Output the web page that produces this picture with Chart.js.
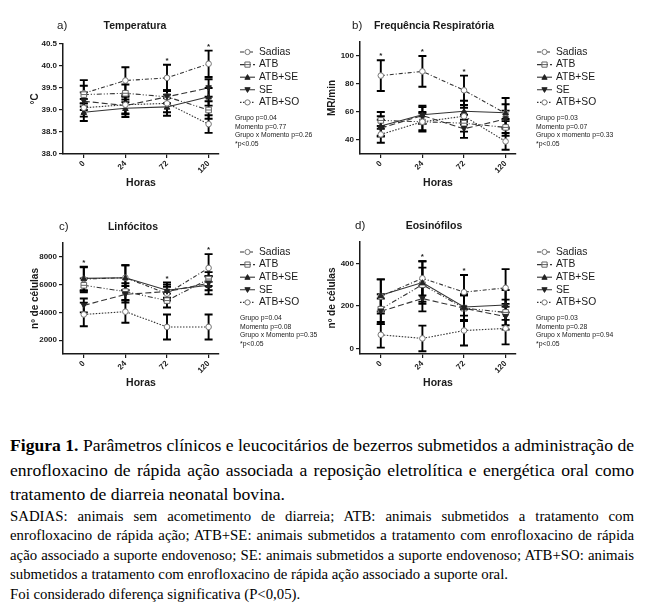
<!DOCTYPE html>
<html><head><meta charset="utf-8">
<script src="https://cdn.jsdelivr.net/npm/chart.js@4.4.1/dist/chart.umd.min.js"></script>
<style>
html,body{margin:0;padding:0;background:#fff;}
body{width:650px;height:611px;position:relative;overflow:hidden;}
canvas{position:absolute;}
#cap1{position:absolute;left:10px;top:433px;width:624px;font-family:'Liberation Serif','Times New Roman',serif;font-size:17.6px;line-height:24.5px;color:#000;}
#cap2{position:absolute;left:10px;top:507px;width:624px;font-family:'Liberation Serif','Times New Roman',serif;font-size:14.8px;line-height:19.4px;color:#000;}
.j{text-align:justify;text-align-last:justify;white-space:nowrap;}
.l{text-align:left;white-space:nowrap;}
</style></head><body>
<canvas id="pa" width="325" height="200" style="left:0;top:0"></canvas>
<canvas id="pb" width="325" height="200" style="left:325px;top:0"></canvas>
<canvas id="pc" width="325" height="200" style="left:0;top:200px"></canvas>
<canvas id="pd" width="325" height="200" style="left:325px;top:200px"></canvas>
<div id="cap1">
<div class="j"><b>Figura 1.</b> Parâmetros clínicos e leucocitários de bezerros submetidos a administração de</div>
<div class="j">enrofloxacino de rápida ação associada a reposição eletrolítica e energética oral como</div>
<div class="l">tratamento de diarreia neonatal bovina.</div>
</div>
<div id="cap2">
<div class="j">SADIAS: animais sem acometimento de diarreia; ATB: animais submetidos a tratamento com</div>
<div class="j">enrofloxacino de rápida ação; ATB+SE: animais submetidos a tratamento com enrofloxacino de rápida</div>
<div class="j">ação associado a suporte endovenoso; SE: animais submetidos a suporte endovenoso; ATB+SO: animais</div>
<div class="l">submetidos a tratamento com enrofloxacino de rápida ação associado a suporte oral.</div>
<div class="l">Foi considerado diferença significativa (P&lt;0,05).</div>
</div>
<script>
// ---- data ----
const hours = ['0', '24', '72', '120'];
const groups = ['Sadias', 'ATB', 'ATB+SE', 'SE', 'ATB+SO'];

const tempMeans = [
  [39.38, 39.67, 39.73, 40.05],
  [39.35, 39.38, 39.30, 39.00],
  [38.95, 39.04, 39.07, 39.30],
  [39.20, 39.10, 39.30, 39.50],
  [39.05, 39.12, 39.15, 38.68]
];
const tempSD = [
  [0.30, 0.30, 0.30, 0.30],
  [0.20, 0.20, 0.15, 0.20],
  [0.20, 0.20, 0.20, 0.20],
  [0.20, 0.20, 0.15, 0.20],
  [0.20, 0.20, 0.20, 0.20]
];
const tempTicks = [38.0, 38.5, 39.0, 39.5, 40.0, 40.5];
const tempSig = [2, 3];
const tempStats = ['Grupo p=0.04', 'Momento p=0.77', 'Grupo x Momento p=0.26', '*p<0.05'];

const respMeans = [
  [86, 89, 75.5, 59],
  [54, 53, 52, 49],
  [50, 58, 60.5, 59.5],
  [48.5, 57.5, 48, 55],
  [44, 53, 57, 39]
];
const respSD = [
  [11, 11, 10.5, 11],
  [6, 6, 6, 6],
  [7, 6.5, 7.5, 6],
  [6, 6, 6.5, 6],
  [6, 7, 6, 6]
];
const respTicks = [40, 60, 80, 100];
const respSig = [0, 1, 2];
const respStats = ['Grupo p=0.03', 'Momento p=0.07', 'Grupo x momento p=0.33', '*p<0.05'];

const linfMeans = [
  [6400, 6500, 5350, 7200],
  [5950, 5500, 4850, 6400],
  [6450, 6500, 5600, 5950],
  [4500, 5300, 5500, 6100],
  [3850, 4050, 2950, 2950]
];
const linfSD = [
  [850, 900, 500, 1000],
  [500, 600, 500, 500],
  [850, 900, 550, 650],
  [500, 600, 500, 500],
  [850, 800, 900, 900]
];
const linfTicks = [2000, 4000, 6000, 8000];
const linfSig = [0, 2, 3];
const linfStats = ['Grupo p=0.04', 'Momento p=0.08', 'Grupo x Momento p=0.35', '*p<0.05'];

const eosMeans = [
  [245, 330, 265, 285],
  [185, 300, 190, 170],
  [250, 310, 195, 205],
  [175, 235, 190, 150],
  [65, 48, 85, 95]
];
const eosSD = [
  [80, 80, 80, 88],
  [70, 80, 60, 60],
  [75, 100, 60, 70],
  [60, 60, 60, 60],
  [60, 60, 70, 75]
];
const eosTicks = [0, 200, 400];
const eosSig = [1, 2];
const eosStats = ['Grupo p=0.03', 'Momento p=0.28', 'Grupo x Momento p=0.94', '*p<0.05'];

// ---- styles ----
const SANS = '"Liberation Sans", Arial, sans-serif';
const INK = '#1a1a1a';
const seriesStyle = [
  {dash: [4, 2, 1, 2], marker: 'circle', fill: '#fff', stroke: '#777'},
  {dash: [5, 2, 1, 2, 1, 2], marker: 'rectLine', fill: '#fff', stroke: '#666'},
  {dash: [], marker: 'triangle', fill: '#222', stroke: '#222'},
  {dash: [6, 3], marker: 'triDown', fill: '#222', stroke: '#222'},
  {dash: [1.5, 1.5], marker: 'circle', fill: '#fff', stroke: '#777'}
];

function drawMarker(ctx, kind, x, y, r, fill, stroke) {
  ctx.save();
  ctx.setLineDash([]);
  ctx.fillStyle = fill; ctx.strokeStyle = stroke; ctx.lineWidth = 1;
  ctx.beginPath();
  if (kind === 'circle') {
    ctx.arc(x, y, r, 0, Math.PI * 2);
  } else if (kind === 'rectLine') {
    ctx.rect(x - r, y - r, 2 * r, 2 * r);
  } else if (kind === 'triangle') {
    ctx.moveTo(x, y - r); ctx.lineTo(x + r, y + r * 0.8); ctx.lineTo(x - r, y + r * 0.8); ctx.closePath();
  } else {
    ctx.moveTo(x, y + r); ctx.lineTo(x + r, y - r * 0.8); ctx.lineTo(x - r, y - r * 0.8); ctx.closePath();
  }
  ctx.fill(); ctx.stroke();
  if (kind === 'rectLine') {
    ctx.beginPath(); ctx.moveTo(x - r, y); ctx.lineTo(x + r, y); ctx.stroke();
  }
  ctx.restore();
}

const extras = {
  id: 'extras',
  beforeDatasetsDraw(chart) {
    const p = chart.options.plugins.extras;
    const {ctx} = chart; const x = chart.scales.x, y = chart.scales.y;
    ctx.save();
    ctx.strokeStyle = '#000'; ctx.lineWidth = 1.9;
    p.means.forEach((row, s) => row.forEach((m, i) => {
      const sd = p.sds[s][i];
      const px = x.getPixelForValue(i);
      const t = y.getPixelForValue(m + sd), b = y.getPixelForValue(m - sd);
      ctx.beginPath();
      ctx.moveTo(px, t); ctx.lineTo(px, b);
      ctx.moveTo(px - 4, t); ctx.lineTo(px + 4, t);
      ctx.moveTo(px - 4, b); ctx.lineTo(px + 4, b);
      ctx.stroke();
    }));
    ctx.restore();
  },
  afterDatasetsDraw(chart) {
    const p = chart.options.plugins.extras;
    const {ctx} = chart; const x = chart.scales.x, y = chart.scales.y;
    p.means.forEach((row, s) => row.forEach((m, i) => {
      const st = seriesStyle[s];
      drawMarker(ctx, st.marker, x.getPixelForValue(i), y.getPixelForValue(m), 2.8, st.fill, st.stroke);
    }));
  },
  afterDraw(chart) {
    const p = chart.options.plugins.extras;
    const {ctx} = chart; const x = chart.scales.x, y = chart.scales.y;
    ctx.save();
    ctx.fillStyle = INK;
    // asterisks
    ctx.font = 'bold 8px ' + SANS; ctx.textAlign = 'center'; ctx.textBaseline = 'alphabetic';
    p.sig.forEach(i => {
      let top = Infinity;
      p.means.forEach((row, s) => { top = Math.min(top, y.getPixelForValue(row[i] + p.sds[s][i])); });
      ctx.fillText('*', x.getPixelForValue(i), top - 2);
    });
    // letter + title
    ctx.textBaseline = 'middle'; ctx.textAlign = 'left';
    ctx.font = '11.5px ' + SANS;
    ctx.fillText(p.letter, p.letterX, p.titleY);
    ctx.font = 'bold 10.5px ' + SANS; ctx.textAlign = 'center';
    ctx.fillText(p.title, p.titleX, p.titleY);
    // legend
    ctx.textAlign = 'left';
    groups.forEach((g, s) => {
      const st = seriesStyle[s];
      const yy = p.legY + s * 12.6;
      ctx.save();
      ctx.strokeStyle = '#333'; ctx.lineWidth = 1.1; ctx.setLineDash(st.dash);
      ctx.beginPath(); ctx.moveTo(p.legX, yy); ctx.lineTo(p.legX + 15, yy); ctx.stroke();
      ctx.restore();
      drawMarker(ctx, st.marker, p.legX + 7.5, yy, 2.6, st.fill, st.stroke);
      ctx.fillStyle = INK; ctx.font = '10.3px ' + SANS;
      ctx.fillText(g, p.legX + 19, yy);
    });
    ctx.font = '6.8px ' + SANS;
    p.stats.forEach((t, k) => ctx.fillText(t, p.statX, p.statY + k * 8.7));
    ctx.restore();
  }
};

function makePanel(id, cfg) {
  const datasets = cfg.means.map((row, s) => ({
    label: groups[s],
    data: row.map((v, i) => ({x: i, y: v})),
    borderColor: '#333',
    borderWidth: 1.1,
    borderDash: seriesStyle[s].dash,
    pointRadius: 0,
    fill: false,
    tension: 0
  }));
  const axisFontBold = {family: SANS, size: 8, weight: 'bold'};
  new Chart(document.getElementById(id), {
    type: 'line',
    data: {datasets},
    plugins: [extras],
    options: {
      responsive: false, animation: false, devicePixelRatio: 1,
      layout: {padding: {left: cfg.padLeft, top: cfg.top, right: 325 - cfg.right, bottom: 9}},
      plugins: {
        legend: {display: false}, tooltip: {enabled: false},
        extras: {
          means: cfg.means, sds: cfg.sds, sig: cfg.sig, stats: cfg.stats,
          letter: cfg.letter, letterX: cfg.letterX, title: cfg.title, titleX: cfg.titleX, titleY: cfg.titleY,
          legX: cfg.legX, legY: cfg.legY, statX: cfg.statX, statY: cfg.statY
        }
      },
      scales: {
        x: {
          type: 'linear', min: -0.5, max: 3.25,
          afterBuildTicks: sc => { sc.ticks = hours.map((h, i) => ({value: i})); },
          afterFit: sc => { sc.height = 37; },
          ticks: {callback: v => hours[v], minRotation: 45, maxRotation: 45, autoSkip: false, font: axisFontBold, color: INK, padding: 1},
          grid: {drawOnChartArea: false, drawTicks: true, tickLength: 4, color: INK, lineWidth: 1.2},
          border: {display: true, color: INK, width: 1.5},
          title: {display: true, text: 'Horas', color: INK, font: {family: SANS, size: 10.5, weight: 'bold'}, padding: {top: 0, bottom: 2}}
        },
        y: {
          type: 'linear', min: cfg.yMin, max: cfg.yMax,
          afterBuildTicks: sc => { sc.ticks = cfg.yTicks.map(v => ({value: v})); },
          afterFit: sc => { sc.width = cfg.left - cfg.padLeft; },
          ticks: {callback: cfg.yFmt, font: axisFontBold, color: INK, padding: 2},
          grid: {drawOnChartArea: false, drawTicks: true, tickLength: 4, color: INK, lineWidth: 1.2},
          border: {display: true, color: INK, width: 1.5},
          title: {display: true, text: cfg.yTitle, color: INK, font: {family: SANS, size: 10, weight: 'bold'}, padding: {top: 0, bottom: 2}}
        }
      }
    }
  });
}

makePanel('pa', {
  means: tempMeans, sds: tempSD, sig: tempSig, stats: tempStats, yTicks: tempTicks,
  yMin: 38.0, yMax: 40.5, yFmt: v => v.toFixed(1), yTitle: '°C',
  padLeft: 29, left: 63, right: 219, top: 44,
  letter: 'a)', letterX: 57, title: 'Temperatura', titleX: 135, titleY: 26,
  legX: 240, legY: 52, statX: 235, statY: 118
});
makePanel('pb', {
  means: respMeans, sds: respSD, sig: respSig, stats: respStats, yTicks: respTicks,
  yMin: 30, yMax: 110, yFmt: v => String(v), yTitle: 'MR/min',
  padLeft: 1, left: 35, right: 191, top: 42,
  letter: 'b)', letterX: 27, title: 'Frequência Respiratória', titleX: 109, titleY: 26,
  legX: 212, legY: 52, statX: 211, statY: 118
});
makePanel('pc', {
  means: linfMeans, sds: linfSD, sig: linfSig, stats: linfStats, yTicks: linfTicks,
  yMin: 1000, yMax: 9000, yFmt: v => String(v), yTitle: 'nº de células',
  padLeft: 29, left: 63, right: 219, top: 43,
  letter: 'c)', letterX: 59, title: 'Linfócitos', titleX: 133, titleY: 27,
  legX: 240, legY: 52, statX: 240, statY: 118
});
makePanel('pd', {
  means: eosMeans, sds: eosSD, sig: eosSig, stats: eosStats, yTicks: eosTicks,
  yMin: -25, yMax: 500, yFmt: v => String(v), yTitle: 'nº de células',
  padLeft: 1, left: 35, right: 191, top: 42,
  letter: 'd)', letterX: 30, title: 'Eosinófilos', titleX: 109, titleY: 26,
  legX: 212, legY: 52, statX: 211, statY: 118
});
</script>
</body></html>
